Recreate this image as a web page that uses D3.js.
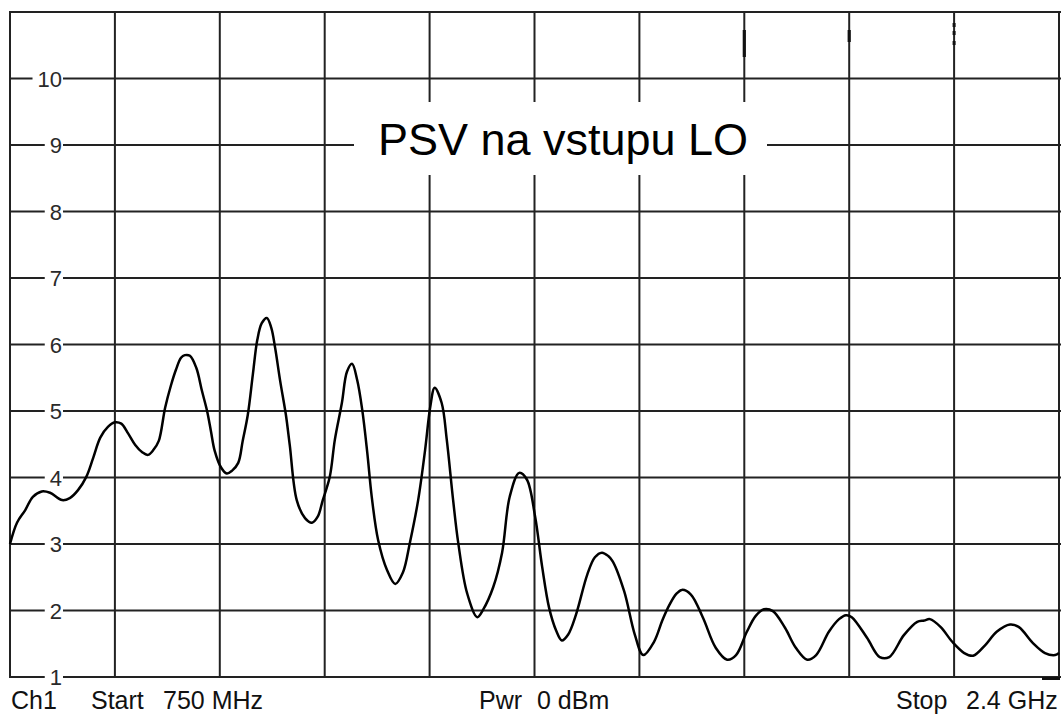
<!DOCTYPE html>
<html>
<head>
<meta charset="utf-8">
<script src="https://cdn.jsdelivr.net/npm/d3@7"></script>
<style>
  html, body { margin: 0; padding: 0; background: #fff; }
  svg { display: block; font-family: "Liberation Sans", Arial, sans-serif; }
</style>
</head>
<body>
<svg id="chart" width="1064" height="715"></svg>
<script>
// ---- data ----
const title = "PSV na vstupu LO";
const startMHz = 750, stopMHz = 2400;
const yTickLabels = [1, 2, 3, 4, 5, 6, 7, 8, 9, 10];
const footerLabels = ["Ch1", "Start", "750 MHz", "Pwr", "0 dBm", "Stop", "2.4 GHz"];

const freqMHz = [750,761,774,786,800,813,832,844,857,870,881,892,904,915,925,936,947,958,967,976,984,994,1003,1011,1019,1025,1033,1043,1052,1060,1066,1072,1082,1091,1099,1109,1116,1124,1132,1139,1146,1154,1161,1167,1175,1184,1190,1201,1214,1225,1234,1242,1253,1261,1272,1280,1288,1296,1304,1312,1319,1329,1343,1356,1368,1379,1392,1403,1411,1418,1429,1437,1447,1455,1469,1485,1494,1510,1524,1536,1551,1563,1576,1587,1598,1609,1618,1628,1640,1658,1670,1681,1691,1698,1716,1733,1746,1763,1776,1787,1798,1807,1821,1840,1860,1878,1892,1909,1923,1936,1950,1969,1986,2004,2018,2038,2054,2065,2074,2098,2118,2133,2156,2177,2188,2197,2214,2232,2251,2265,2284,2302,2323,2337,2359,2378,2394,2400];
const vswr = [3.00,3.32,3.51,3.71,3.79,3.77,3.66,3.69,3.81,4.01,4.30,4.60,4.76,4.83,4.81,4.66,4.49,4.38,4.34,4.42,4.55,5.05,5.38,5.62,5.80,5.84,5.83,5.65,5.30,5.00,4.70,4.40,4.15,4.06,4.10,4.22,4.55,4.94,5.55,6.07,6.32,6.40,6.25,5.95,5.45,4.94,4.49,3.66,3.39,3.32,3.41,3.66,4.01,4.57,5.12,5.59,5.71,5.47,5.02,4.37,3.71,3.06,2.61,2.40,2.57,3.02,3.66,4.42,5.06,5.35,5.12,4.57,3.66,3.02,2.26,1.90,2.01,2.35,2.87,3.71,4.07,3.97,3.41,2.66,2.04,1.70,1.55,1.64,1.93,2.54,2.80,2.87,2.82,2.74,2.29,1.63,1.33,1.53,1.85,2.08,2.25,2.31,2.24,1.89,1.44,1.26,1.33,1.68,1.92,2.02,1.99,1.74,1.44,1.26,1.33,1.68,1.87,1.93,1.90,1.59,1.30,1.30,1.63,1.83,1.85,1.87,1.75,1.53,1.36,1.32,1.48,1.68,1.79,1.75,1.51,1.36,1.33,1.36];

// ---- layout ----
const svg = d3.select("#chart");
const mLeft = 10, mRight = 1059, mTop = 12, mBottom = 677;
const x = d3.scaleLinear().domain([startMHz, stopMHz]).range([mLeft, mRight]);
const y = d3.scaleLinear().domain([1, 11]).range([mBottom, mTop]);
const gridColor = "#222";

svg.append("rect").attr("width", 1064).attr("height", 715).attr("fill", "#fff");

// vertical grid lines (10 divisions)
const xDivs = d3.range(0, 11).map(i => startMHz + i * (stopMHz - startMHz) / 10);
svg.append("g").selectAll("line").data(xDivs).join("line")
  .attr("x1", d => x(d)).attr("x2", d => x(d))
  .attr("y1", y(11)).attr("y2", y(1))
  .attr("stroke", gridColor).attr("stroke-width", 2);

// horizontal grid lines
svg.append("g").selectAll("line").data(d3.range(1, 12)).join("line")
  .attr("x1", mLeft - 1).attr("x2", mRight + 2)
  .attr("y1", d => y(d)).attr("y2", d => y(d))
  .attr("stroke", gridColor).attr("stroke-width", 2);

// small marker at bottom right
svg.append("line").attr("x1", x(stopMHz) - 17).attr("x2", x(stopMHz) + 1)
  .attr("y1", y(1) + 1.5).attr("y2", y(1) + 1.5)
  .attr("stroke", "#111").attr("stroke-width", 3);

// remnants of erased annotation at top right
const marks = [
  {f: startMHz + 7 * 165, y0: 30, y1: 57, w: 3.2},
  {f: startMHz + 8 * 165, y0: 30, y1: 42, w: 3.2},
  {f: startMHz + 9 * 165, y0: 23, y1: 27, w: 3},
  {f: startMHz + 9 * 165, y0: 31, y1: 35, w: 3},
  {f: startMHz + 9 * 165, y0: 41, y1: 45, w: 3}
];
svg.append("g").selectAll("line").data(marks).join("line")
  .attr("x1", d => x(d.f)).attr("x2", d => x(d.f))
  .attr("y1", d => d.y0).attr("y2", d => d.y1)
  .attr("stroke", "#111").attr("stroke-width", d => d.w);

// trace
const line = d3.line()
  .x((d, i) => x(freqMHz[i]))
  .y(d => y(d))
  .curve(d3.curveCatmullRom.alpha(0.5));
svg.append("path").datum(vswr)
  .attr("d", line)
  .attr("fill", "none").attr("stroke", "#000")
  .attr("stroke-width", 2.5).attr("stroke-linejoin", "round");

// y labels with white background gap
const yl = svg.append("g");
yTickLabels.forEach(v => {
  const t = yl.append("text")
    .attr("x", 62).attr("y", y(v) + 8)
    .attr("text-anchor", "end")
    .attr("font-size", 22).attr("fill", "#2a2a2a")
    .text(v);
  const b = t.node().getBBox();
  yl.insert("rect", "text")
    .attr("x", b.x - 5).attr("y", y(v) - 3)
    .attr("width", b.width + 6).attr("height", 6)
    .attr("fill", "#fff");
});

// title with white box
svg.append("rect").attr("x", 354).attr("y", 102).attr("width", 413).attr("height", 73).attr("fill", "#fff");
svg.append("text").attr("x", 563).attr("y", 155)
  .attr("text-anchor", "middle").attr("font-size", 45).attr("fill", "#000")
  .text(title);

// footer
const footerX = [11, 91, 163, 479, 537, 896, 966];
svg.append("g").selectAll("text").data(footerLabels).join("text")
  .attr("x", (d, i) => footerX[i]).attr("y", 709)
  .attr("font-size", 25).attr("fill", "#111")
  .text(d => d);
</script>
</body>
</html>
